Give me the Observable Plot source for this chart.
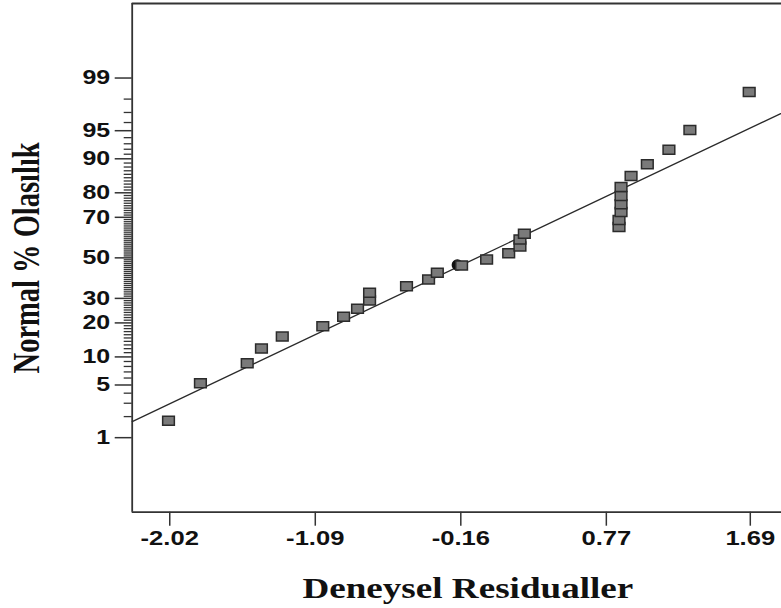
<!DOCTYPE html>
<html><head><meta charset="utf-8">
<script src="https://cdn.jsdelivr.net/npm/d3@7"></script>
<script src="https://cdn.jsdelivr.net/npm/@observablehq/plot@0.6"></script>
<style>
body{margin:0;background:#fff}
#chart{width:781px;height:608px;overflow:hidden;position:relative}
#chart svg{max-width:none !important;}
</style>
</head><body><div id="chart"></div>
<script>
// Residuals (x) and normal probabilities in % (y)
const residuals = [-2.028,-1.824,-1.525,-1.434,-1.301,-1.042,-0.909,-0.820,-0.743,-0.743,
  -0.507,-0.366,-0.310,-0.155,0.005,0.146,0.218,0.218,0.246,0.851,
  0.851,0.864,0.864,0.864,0.864,0.928,1.032,1.170,1.304,1.683];
const percents = [1.76,5.23,8.63,12.02,15.43,18.81,22.27,25.53,29.05,32.56,
  35.7,38.97,42.4,46.1,49.1,52.4,55.9,59.4,62.3,65.5,
  68.8,72.3,75.6,78.8,82.0,85.5,88.7,91.9,95.1,98.4];
const markX = [-0.182];
const markP = [46.3];
const fitX = [-2.26, 2.03];
const fitP = [1.71, 97.76];
const xTicks = [-2.02,-1.09,-0.16,0.77,1.69];
const xTickLabels = ["-2.02","-1.09","-0.16","0.77","1.69"];
const yTickLabels = [1,5,10,20,30,50,70,80,90,95,99];
const xDomain = [-2.26, 2.03];
const yDomainP = [0.05, 99.95];
const xTitle = "Deneysel Residualler";
const yTitle = "Normal % Olasılık";

function probit(p) {
  const a=[-3.969683028665376e+01,2.209460984245205e+02,-2.759285104469687e+02,1.383577518672690e+02,-3.066479806614716e+01,2.506628277459239e+00];
  const b=[-5.447609879822406e+01,1.615858368580409e+02,-1.556989798598866e+02,6.680131188771972e+01,-1.328068155288572e+01];
  const c=[-7.784894002430293e-03,-3.223964580411365e-01,-2.400758277161838e+00,-2.549671010388153e+00,4.374664141464968e+00,2.938163982698783e+00];
  const d=[7.784695709041462e-03,3.224671290700398e-01,2.445134137142996e+00,3.754408661907416e+00];
  const pl=0.02425, ph=1-pl; let q,r;
  if(p<pl){q=Math.sqrt(-2*Math.log(p));return (((((c[0]*q+c[1])*q+c[2])*q+c[3])*q+c[4])*q+c[5])/((((d[0]*q+d[1])*q+d[2])*q+d[3])*q+1);}
  if(p<=ph){q=p-0.5;r=q*q;return (((((a[0]*r+a[1])*r+a[2])*r+a[3])*r+a[4])*r+a[5])*q/(((((b[0]*r+b[1])*r+b[2])*r+b[3])*r+b[4])*r+1);}
  q=Math.sqrt(-2*Math.log(1-p));return -(((((c[0]*q+c[1])*q+c[2])*q+c[3])*q+c[4])*q+c[5])/((((d[0]*q+d[1])*q+d[2])*q+d[3])*q+1);
}
const pz = v => probit(v/100);

const points = residuals.map((x,i) => ({x, z: pz(percents[i])}));
const marks2 = markX.map((x,i) => ({x, z: pz(markP[i])}));
const fit = fitX.map((x,i) => ({x, z: pz(fitP[i])}));
const majorZ = yTickLabels.map(pz);
const labelByZ = new Map(yTickLabels.map(v => [pz(v), String(v)]));
const minorZ = d3.range(1,100).filter(v => !yTickLabels.includes(v)).map(pz);
const xLabelMap = new Map(xTicks.map((v,i) => [v, xTickLabels[i]]));
const yDom = yDomainP.map(pz);

const rectSymbol = {draw(ctx, size){ const r = Math.sqrt(size/Math.PI); ctx.rect(-1.3*r, -r, 2.6*r, 2*r); }};

const ink = "#333";
const chart = Plot.plot({
  width: 803, height: 608,
  marginLeft: 131.7, marginRight: 0, marginTop: 3, marginBottom: 96.3,
  x: {domain: xDomain},
  y: {domain: yDom},
  style: {background: "white", color: ink, overflow: "visible", maxWidth: "none"},
  marks: [
    Plot.axisY({ticks: minorZ, tickSize: 8, tickFormat: () => "", stroke: ink, strokeWidth: 1.3, label: null}),
    Plot.axisY({ticks: majorZ, tickSize: 17, tickPadding: 5, tickFormat: z => labelByZ.get(z), stroke: ink, strokeWidth: 1.5,
      fontSize: 19.5, fontWeight: "bold", fontFamily: "Liberation Sans, Arial, sans-serif", fill: "#111", label: null}),
    Plot.axisX({ticks: xTicks, tickSize: 14, tickPadding: 5, tickFormat: v => xLabelMap.get(v), stroke: ink, strokeWidth: 1.5,
      fontSize: 20, fontWeight: "bold", fontFamily: "Liberation Sans, Arial, sans-serif", fill: "#111", label: null}),
    Plot.ruleX([xDomain[0]], {stroke: ink, strokeWidth: 1.8}),
    Plot.ruleY([yDom[0], yDom[1]], {stroke: ink, strokeWidth: 1.8}),
    Plot.line(fit, {x: "x", y: "z", stroke: "#2a2a2a", strokeWidth: 1.3}),
    Plot.dot(marks2, {x: "x", y: "z", r: 5, fill: "#111", stroke: "#111"}),
    Plot.dot(points, {x: "x", y: "z", symbol: rectSymbol, r: 4.5, fill: "#7a7a7a", stroke: "#2b2b2b", strokeWidth: 1.5}),
    Plot.text([xTitle], {frameAnchor: "bottom", dy: 86, text: d => d, fontSize: 29, fontWeight: "bold",
      fontFamily: "Liberation Serif, Times New Roman, serif", fill: "#111"}),
    Plot.text([yTitle], {frameAnchor: "left", textAnchor: "middle", dx: -105, rotate: -90, text: d => d, fontSize: 28.5, fontWeight: "bold",
      fontFamily: "Liberation Serif, Times New Roman, serif", fill: "#111"})
  ]
});
chart.style.maxWidth = "none";

// horizontal stretch of the text, as in the reference picture
d3.select(chart).selectAll("text").each(function() {
  const t = d3.select(this);
  const txt = this.textContent;
  if (!txt) return;
  const xa = parseFloat(t.attr("x"));
  const x = isFinite(xa) ? xa : 0;
  const tr = t.attr("transform") || "";
  if (txt === yTitle) t.attr("transform", `${tr} scale(1,1.3)`);
  else t.attr("transform", `${tr} translate(${x},0) scale(1.28,1) translate(${-x},0)`);
});
document.getElementById("chart").appendChild(chart);
</script>
</body></html>
